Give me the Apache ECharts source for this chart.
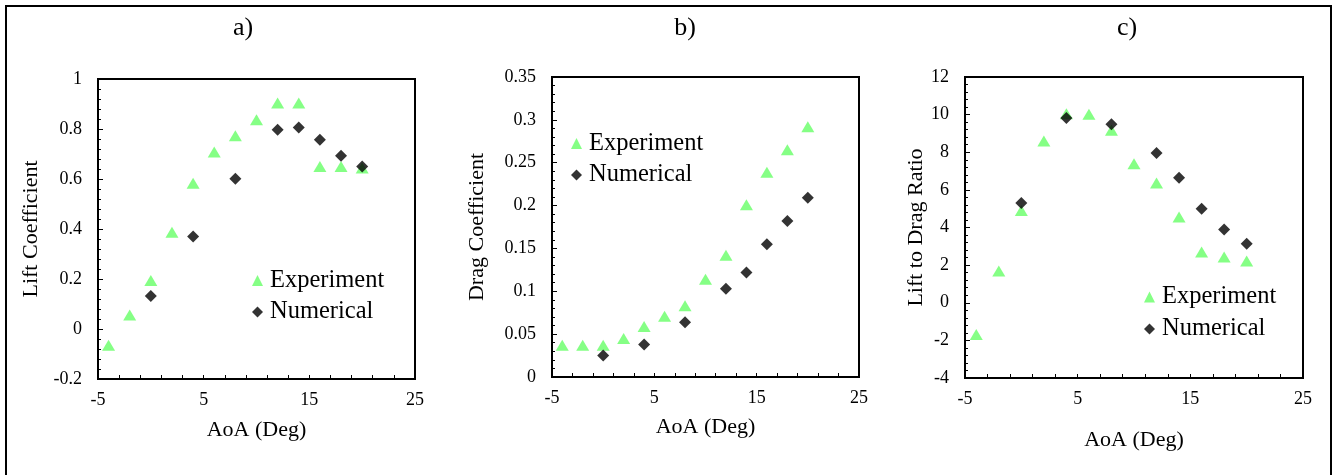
<!DOCTYPE html>
<html>
<head>
<meta charset="utf-8">
<script src="https://cdn.jsdelivr.net/npm/echarts@6/dist/echarts.min.js"></script>
<style>
  html, body { margin: 0; padding: 0; background: #fff; }
  #chart { width: 1336px; height: 475px; }
</style>
</head>
<body>
<div id="chart"></div>
<script>
// angles of attack
var aoaExp = [-4, -2, 0, 2, 4, 6, 8, 10, 12, 14, 16, 18, 20];
var aoaNum = [0, 4, 8, 12, 14, 16, 18, 20];

// a) lift coefficient
var liftExp = [-0.065, 0.056, 0.194, 0.387, 0.583, 0.708, 0.773, 0.837, 0.904, 0.904, 0.65, 0.65, 0.644];
var liftNum = [0.132, 0.37, 0.601, 0.797, 0.806, 0.757, 0.693, 0.65];

// b) drag coefficient
var dragExp = [0.037, 0.037, 0.037, 0.045, 0.059, 0.071, 0.083, 0.114, 0.142, 0.201, 0.239, 0.265, 0.292];
var dragNum = [0.025, 0.038, 0.064, 0.103, 0.122, 0.155, 0.182, 0.209];

// c) lift to drag ratio
var ldExp = [-1.69, 1.69, 4.91, 8.6, 10.05, 10.02, 9.17, 7.39, 6.37, 4.56, 2.7, 2.43, 2.22];
var ldNum = [5.3, 9.82, 9.49, 7.96, 6.65, 5.0, 3.89, 3.14];

// x axis ticks / labels
var xTicks = [-5, -3, -1, 1, 3, 5, 7, 9, 11, 13, 15, 17, 19, 21, 23, 25];
var xLabels = [-5, 5, 15, 25];

var green = '#66FF66';
var font = 'Liberation Serif';

function pairs(xs, ys) {
  return xs.map(function (x, i) { return [x, ys[i]]; });
}

function xAxisFor(i, gap) {
  return {
    type: 'value', gridIndex: i, min: -5, max: 25,
    name: 'AoA (Deg)', nameLocation: 'middle', nameGap: gap,
    nameTextStyle: { fontFamily: font, fontSize: 22, color: '#000' },
    axisLine: { show: true, onZero: false, lineStyle: { color: '#000', width: 2 } },
    axisTick: { show: true, inside: true, length: 4, customValues: xTicks, lineStyle: { color: '#000' } },
    axisLabel: { customValues: xLabels, fontFamily: font, fontSize: 18, color: '#000', margin: 12 },
    splitLine: { show: false }
  };
}

function yAxisFor(i, name, min, max, interval, gap) {
  return {
    type: 'value', gridIndex: i, min: min, max: max, interval: interval,
    name: name, nameLocation: 'middle', nameGap: gap,
    nameTextStyle: { fontFamily: font, fontSize: 22, color: '#000' },
    axisLine: { show: true, onZero: false, lineStyle: { color: '#000', width: 2 } },
    axisTick: { show: true, inside: true, length: 5, lineStyle: { color: '#000' } },
    minorTick: { show: true, splitNumber: 5, length: 3, lineStyle: { color: '#000' } },
    axisLabel: { fontFamily: font, fontSize: 18, color: '#000', margin: 16 },
    splitLine: { show: false },
    minorSplitLine: { show: false }
  };
}

function expSeries(i, ys) {
  return {
    type: 'scatter', name: 'Experiment', xAxisIndex: i, yAxisIndex: i,
    symbol: 'triangle', symbolSize: [13, 11],
    itemStyle: { color: green },
    data: pairs(aoaExp, ys)
  };
}

function numSeries(i, ys) {
  return {
    type: 'scatter', name: 'Numerical', xAxisIndex: i, yAxisIndex: i,
    symbol: 'diamond', symbolSize: 12,
    itemStyle: { color: '#000' },
    data: pairs(aoaNum, ys)
  };
}

function legendAt(left, top, gap) {
  return {
    data: ['Experiment', 'Numerical'], orient: 'vertical',
    left: left, top: top, padding: 0, itemGap: gap,
    itemWidth: 11, itemHeight: 11,
    textStyle: { fontFamily: font, fontSize: 24.5, color: '#000', padding: [0, 0, 0, 2] }
  };
}

function panelTitle(x, text) {
  return {
    type: 'text', x: x, y: 28,
    style: { text: text, font: '26px "Liberation Serif"', fill: '#000', align: 'center', verticalAlign: 'middle' }
  };
}

var chart = echarts.init(document.getElementById('chart'));
chart.setOption({
  animation: false,
  backgroundColor: '#fff',
  grid: [
    { left: 98, top: 79, width: 317, height: 300, show: true, borderColor: '#000', borderWidth: 2, outerBoundsMode: 'none' },
    { left: 552, top: 77, width: 307, height: 300, show: true, borderColor: '#000', borderWidth: 2, outerBoundsMode: 'none' },
    { left: 965, top: 77, width: 338, height: 301, show: true, borderColor: '#000', borderWidth: 2, outerBoundsMode: 'none' }
  ],
  xAxis: [xAxisFor(0, 40), xAxisFor(1, 39), xAxisFor(2, 51)],
  yAxis: [
    yAxisFor(0, 'Lift Coefficient', -0.2, 1, 0.2, 56),
    yAxisFor(1, 'Drag Coefficient', 0, 0.35, 0.05, 64),
    yAxisFor(2, 'Lift to Drag Ratio', -4, 12, 2, 36)
  ],
  legend: [legendAt(252, 268, 6.5), legendAt(571, 131, 6.5), legendAt(1144, 284.5, 7)],
  series: [
    expSeries(0, liftExp), numSeries(0, liftNum),
    expSeries(1, dragExp), numSeries(1, dragNum),
    expSeries(2, ldExp), numSeries(2, ldNum)
  ],
  graphic: [
    { type: 'rect', shape: { x: 6, y: 6, width: 1325, height: 490 }, style: { fill: null, stroke: '#000', lineWidth: 2 } },
    panelTitle(243, 'a)'),
    panelTitle(685, 'b)'),
    panelTitle(1127, 'c)')
  ]
});
</script>
</body>
</html>
